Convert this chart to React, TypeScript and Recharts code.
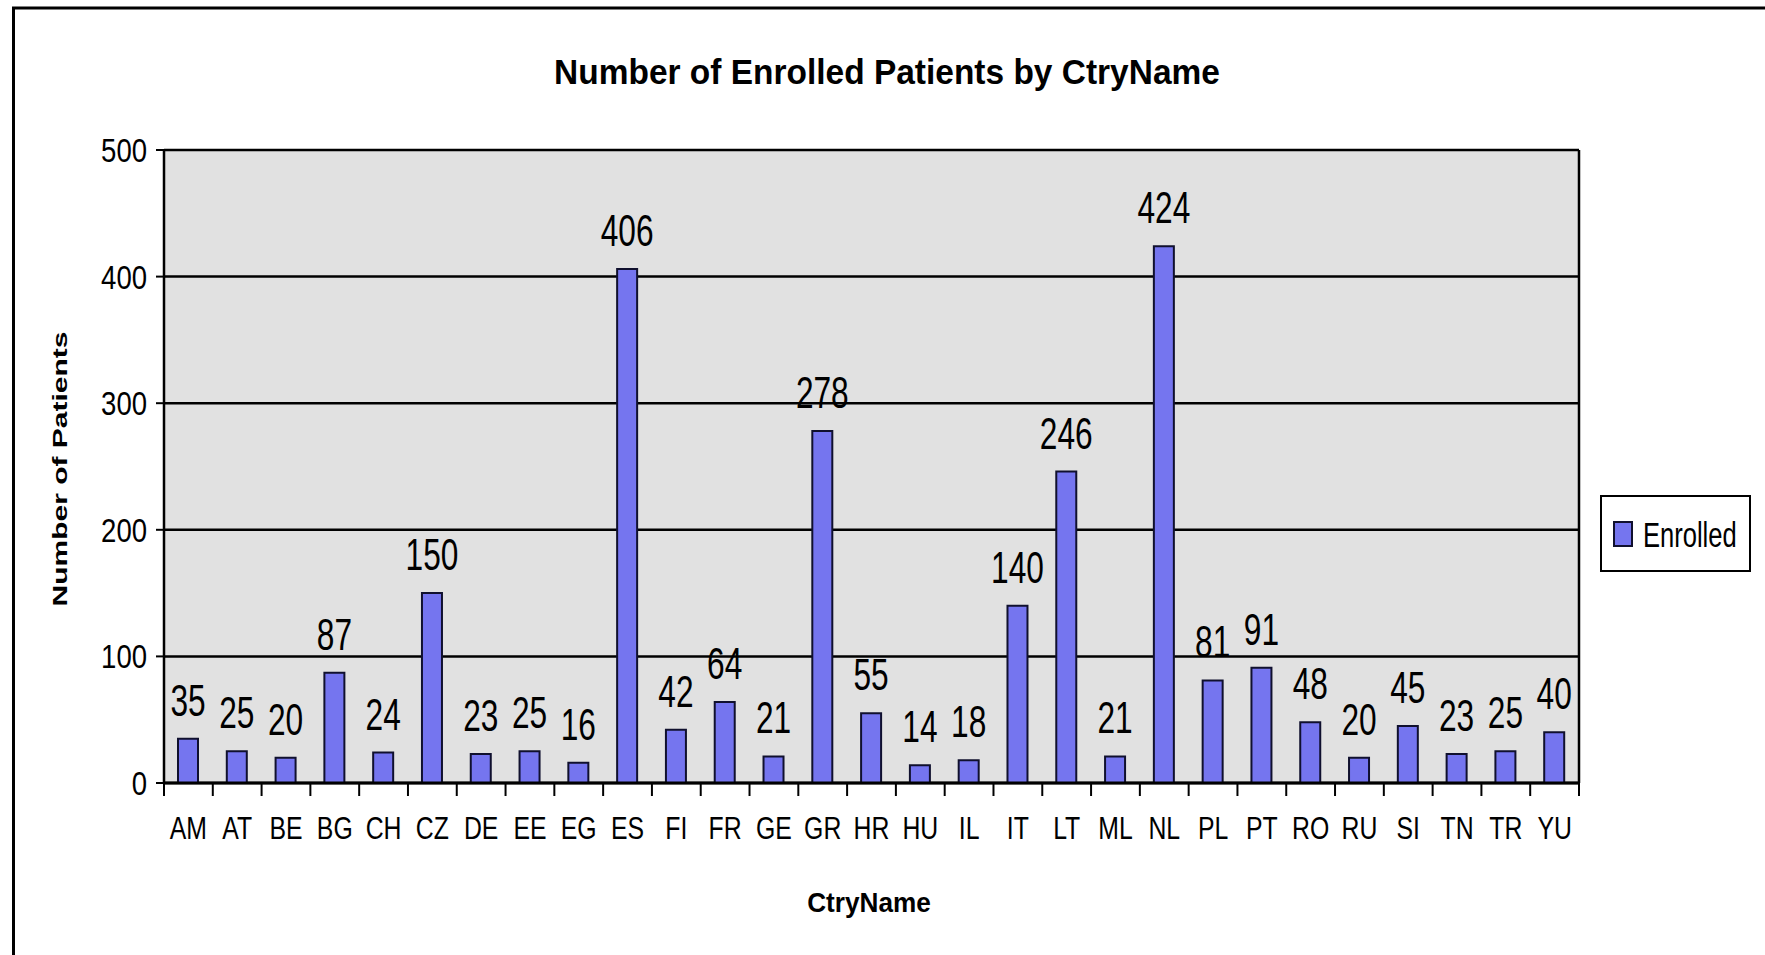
import React from 'react';
import { BarChart, Bar, XAxis, YAxis, CartesianGrid, LabelList, Legend } from 'recharts';

const countries = ['AM', 'AT', 'BE', 'BG', 'CH', 'CZ', 'DE', 'EE', 'EG', 'ES', 'FI', 'FR', 'GE', 'GR', 'HR', 'HU', 'IL', 'IT', 'LT', 'ML', 'NL', 'PL', 'PT', 'RO', 'RU', 'SI', 'TN', 'TR', 'YU'];
const enrolled = [35, 25, 20, 87, 24, 150, 23, 25, 16, 406, 42, 64, 21, 278, 55, 14, 18, 140, 246, 21, 424, 81, 91, 48, 20, 45, 23, 25, 40];
const yTicks = [0, 100, 200, 300, 400, 500];
const seriesName = 'Enrolled';

const data = countries.map((c, i) => ({ country: c, Enrolled: enrolled[i] }));

const W = 1765;
const H = 955;
const BAR_FILL = '#7575ef';
const BAR_STROKE = '#10102e';
const SANS = '"Liberation Sans", Arial, sans-serif';
const X_TICK_GAP = 34;

const YTick = (props: any) => {
  const { x, y, payload } = props;
  return (
    <text
      transform={`translate(${x},${y}) scale(0.81,1)`}
      textAnchor="end"
      dy="0.355em"
      fontSize={34}
      fontFamily={SANS}
      fill="#000"
    >
      {payload.value}
    </text>
  );
};

const XTick = (props: any) => {
  const { x, y, payload, width } = props;
  const half = typeof payload?.offset === 'number' && payload.offset > 0 ? payload.offset : width / countries.length / 2;
  const axisY = y - X_TICK_GAP;
  const isLast = payload.value === countries[countries.length - 1];
  return (
    <g>
      <line x1={x - half} x2={x - half} y1={axisY} y2={axisY + 13} stroke="#000" strokeWidth={2} />
      {isLast && <line x1={x + half} x2={x + half} y1={axisY} y2={axisY + 13} stroke="#000" strokeWidth={2} />}
      <text
        transform={`translate(${x},${y}) scale(0.8,1)`}
        textAnchor="middle"
        dy="0.71em"
        fontSize={31}
        fontFamily={SANS}
        fill="#000"
      >
        {payload.value}
      </text>
    </g>
  );
};

const renderLabel = (props: any) => {
  const { x, y, width, value } = props;
  const cx = Number(x) + Number(width) / 2;
  const cy = Number(y) - 23;
  return (
    <text
      transform={`translate(${cx},${cy}) scale(0.72,1)`}
      textAnchor="middle"
      fontSize={44}
      fontFamily={SANS}
      fill="#000"
    >
      {value}
    </text>
  );
};

const renderLegend = () => (
  <div
    style={{
      width: 151,
      height: 77,
      boxSizing: 'border-box',
      border: '2px solid #000',
      background: '#fff',
    }}
  >
    <svg width={147} height={73} style={{ display: 'block' }}>
      <rect x={12} y={25} width={18} height={24} fill={BAR_FILL} stroke={BAR_STROKE} strokeWidth={2} />
      <text transform="translate(41,50) scale(0.73,1)" fontSize={35} fontFamily={SANS} fill="#000">
        {seriesName}
      </text>
    </svg>
  </div>
);

export default function App() {
  return (
    <div style={{ position: 'absolute', left: 0, top: 0, width: W, height: H, background: '#fff', overflow: 'hidden' }}>
      <svg width={W} height={H} style={{ position: 'absolute', left: 0, top: 0 }}>
        <rect x={13.5} y={8} width={W + 100} height={H + 100} fill="#fff" stroke="#000" strokeWidth={3} />
        <text
          transform="translate(887,84) scale(0.93,1)"
          textAnchor="middle"
          fontSize={36}
          fontWeight="bold"
          fontFamily={SANS}
          fill="#000"
        >
          Number of Enrolled Patients by CtryName
        </text>
        <text
          transform="translate(67,469) rotate(-90) scale(1.5,1)"
          textAnchor="middle"
          fontSize={20}
          fontWeight="bold"
          fontFamily={SANS}
          fill="#000"
        >
          Number of Patients
        </text>
        <text
          transform="translate(869,912) scale(0.97,1)"
          textAnchor="middle"
          fontSize={27}
          fontWeight="bold"
          fontFamily={SANS}
          fill="#000"
        >
          CtryName
        </text>
      </svg>
      <div style={{ position: 'absolute', left: 0, top: 0 }}>
        <BarChart width={W} height={H} data={data} margin={{ top: 150, right: 186, left: 0, bottom: 112 }}>
          <CartesianGrid
            horizontal
            vertical
            verticalCoordinatesGenerator={({ offset }: any) => [offset.left + offset.width]}
            stroke="#000"
            strokeWidth={2.5}
            fill="#e1e1e1"
            fillOpacity={1}
          />
          <XAxis
            dataKey="country"
            height={60}
            interval={0}
            tickLine={false}
            tickSize={0}
            tickMargin={X_TICK_GAP}
            axisLine={{ stroke: '#000', strokeWidth: 3 }}
            tick={XTick}
          />
          <YAxis
            domain={[0, 500]}
            ticks={yTicks}
            width={164}
            interval={0}
            tickSize={8}
            tickMargin={9}
            axisLine={{ stroke: '#000', strokeWidth: 2.5 }}
            tickLine={{ stroke: '#000', strokeWidth: 2 }}
            tick={YTick}
          />
          <Legend
            layout="horizontal"
            verticalAlign="middle"
            align="center"
            content={renderLegend}
            wrapperStyle={{ position: 'absolute', left: 1600, top: 495, width: 151, height: 77, bottom: 'auto', right: 'auto' }}
          />
          <Bar dataKey="Enrolled" name={seriesName} fill={BAR_FILL} stroke={BAR_STROKE} strokeWidth={2} barSize={20} isAnimationActive={false}>
            <LabelList dataKey="Enrolled" content={renderLabel} />
          </Bar>
        </BarChart>
      </div>
    </div>
  );
}
